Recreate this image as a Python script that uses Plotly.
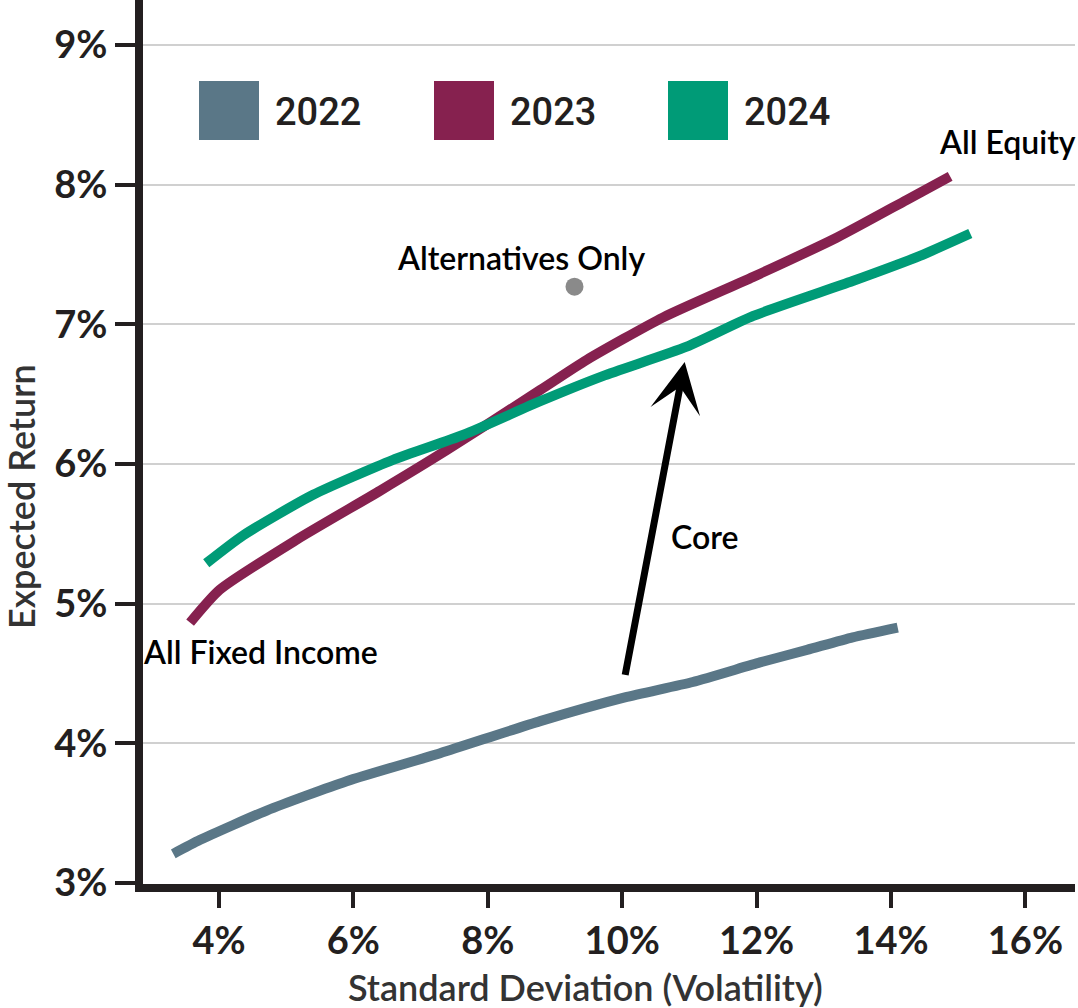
import plotly.graph_objects as go

# Efficient frontiers: standard deviation (%) vs expected return (%)
years = ["2022", "2023", "2024"]
colors = ["#5a7787", "#86214f", "#009b77"]

sd_2022 = [3.32, 3.72, 4.71, 5.90, 7.29, 8.78, 10.04, 11.05, 12.05, 12.75, 13.43, 14.10]
ret_2022 = [3.21, 3.31, 3.52, 3.73, 3.93, 4.16, 4.33, 4.44, 4.58, 4.67, 4.76, 4.83]

sd_2023 = [3.57, 4.01, 5.16, 6.40, 7.39, 8.78, 9.47, 10.61, 11.95, 13.19, 14.23, 14.88]
ret_2023 = [4.865, 5.10, 5.46, 5.81, 6.10, 6.53, 6.745, 7.05, 7.34, 7.62, 7.89, 8.06]

sd_2024 = [3.81, 4.36, 5.40, 6.59, 7.64, 8.78, 9.71, 10.96, 11.95, 13.43, 14.43, 15.18]
ret_2024 = [5.29, 5.49, 5.78, 6.03, 6.21, 6.45, 6.63, 6.84, 7.06, 7.31, 7.49, 7.65]

alt_sd = [9.29]
alt_ret = [7.27]

# "Core" shift arrow (tail -> head)
core_from = (10.04, 4.48)
core_to = (10.93, 6.73)

x_ticks = [4, 6, 8, 10, 12, 14, 16]
x_tick_text = ["4%", "6%", "8%", "10%", "12%", "14%", "16%"]
y_ticks = [3, 4, 5, 6, 7, 8, 9]
y_tick_text = ["3%", "4%", "5%", "6%", "7%", "8%", "9%"]

W, H = 1078, 1008
L, R, T, B = 143, 3, 0, 124
PW, PH = W - L - R, H - T - B

def px(xp):
    return (xp - L) / PW

def py(yp):
    return (H - B - yp) / PH

INK = "#231f20"
FONT = "Lato"
label_font = dict(family=FONT, size=32, color="#000", weight=600)

fig = go.Figure()
series = [(sd_2022, ret_2022), (sd_2023, ret_2023), (sd_2024, ret_2024)]
for (xs, ys), name, c in zip(series, years, colors):
    fig.add_trace(go.Scatter(x=xs, y=ys, mode="lines", name=name,
                             line=dict(color=c, width=10, shape="spline", smoothing=0.6),
                             showlegend=False, hoverinfo="skip"))

fig.add_trace(go.Scatter(x=alt_sd, y=alt_ret, mode="markers",
                         marker=dict(color="#8a8a8a", size=18),
                         showlegend=False, hoverinfo="skip"))

annotations = [
    dict(x=core_to[0], y=core_to[1], ax=core_from[0], ay=core_from[1],
         xref="x", yref="y", axref="x", ayref="y", text="",
         showarrow=True, arrowhead=3, arrowsize=1.2, arrowwidth=7,
         arrowcolor="#000000"),
    dict(x=15.74, y=8.31, xref="x", yref="y", text="All Equity",
         showarrow=False, font=label_font),
    dict(x=8.49, y=7.48, xref="x", yref="y", text="Alternatives Only",
         showarrow=False, font=label_font),
    dict(x=4.62, y=4.655, xref="x", yref="y", text="All Fixed Income",
         showarrow=False, font=label_font),
    dict(x=11.22, y=5.48, xref="x", yref="y", text="Core",
         showarrow=False, font=label_font),
    dict(x=px(585), y=py(987), xref="paper", yref="paper",
         xanchor="center", yanchor="middle",
         text="Standard Deviation (Volatility)", showarrow=False,
         font=dict(family=FONT, size=36, color="#333333", weight=600)),
    dict(x=px(21), y=py(496), xref="paper", yref="paper",
         xanchor="center", yanchor="middle", textangle=-90,
         text="Expected Return", showarrow=False,
         font=dict(family=FONT, size=36, color="#333333", weight=600)),
]

# Legend: colored squares with year labels
shapes = []
sq_left = [199, 434, 668]
for name, c, x0 in zip(years, colors, sq_left):
    shapes.append(dict(type="rect", xref="paper", yref="paper",
                       x0=px(x0), x1=px(x0 + 60), y0=py(140), y1=py(81),
                       fillcolor=c, line=dict(width=0)))
    annotations.append(dict(x=px(x0 + 74), y=py(112), xref="paper", yref="paper",
                            xanchor="left", yanchor="middle", text=name,
                            showarrow=False,
                            font=dict(family="Roboto", size=38, color=INK, weight=500)))

fig.update_layout(
    width=W, height=H,
    margin=dict(l=L, r=R, t=T, b=B),
    paper_bgcolor="white", plot_bgcolor="white",
    shapes=shapes, annotations=annotations,
    xaxis=dict(range=[2.869, 16.738], tickvals=x_ticks, ticktext=x_tick_text,
               showgrid=False, zeroline=False,
               showline=True, linewidth=8, linecolor=INK,
               ticks="outside", ticklen=16, tickwidth=4, tickcolor=INK,
               tickfont=dict(family=FONT, size=38, color=INK, weight="bold")),
    yaxis=dict(range=[2.994, 9.322], tickvals=y_ticks, ticktext=y_tick_text,
               showgrid=True, gridcolor="#d0d0d0", gridwidth=2, zeroline=False,
               showline=True, linewidth=8, linecolor=INK,
               ticks="outside", ticklen=20, tickwidth=4, tickcolor=INK,
               tickfont=dict(family=FONT, size=38, color=INK, weight="bold")),
)

fig.write_html("out.html")
